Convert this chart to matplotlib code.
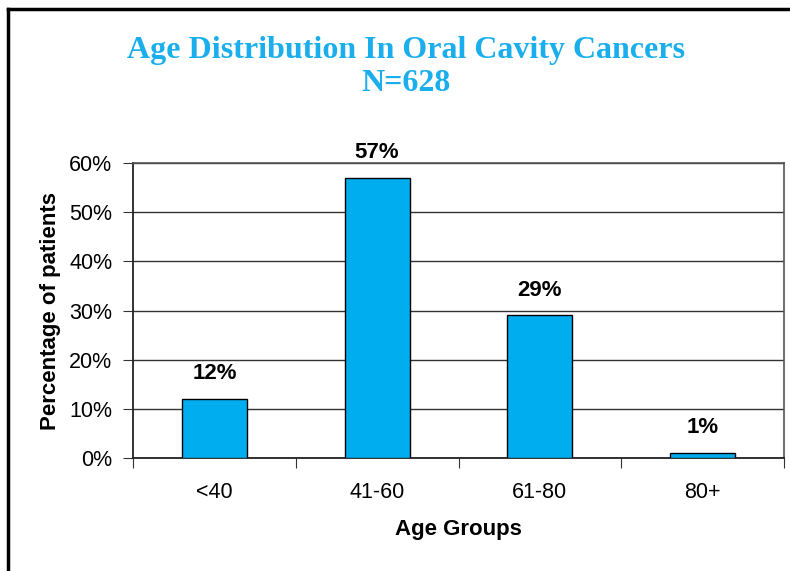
import matplotlib.pyplot as plt
import numpy as np

# Data
age_groups = ['<40', '41-60', '61-80', '80+']
percentages = [12, 57, 29, 1]
y_ticks = [0, 10, 20, 30, 40, 50, 60]

bar_color = '#00AEEF'
title_color = '#1AAFEC'

plt.rcParams['font.family'] = ['Liberation Sans', 'DejaVu Sans']

fig = plt.figure(figsize=(7.9, 5.71), dpi=100)
ax = fig.add_axes([133 / 790, 1 - 458 / 571, 651 / 790, 295 / 571])

x = np.arange(len(age_groups))
bars = ax.bar(x, percentages, width=0.4, color=bar_color, edgecolor='black',
              linewidth=1, zorder=3)

# Value labels above bars
for xi, v in zip(x, percentages):
    ax.text(xi, v + 3, f'{v}%', ha='center', va='bottom', fontsize=16,
            fontweight='bold')

ax.set_xlim(-0.5, len(age_groups) - 0.5)
ax.set_ylim(0, 60)
ax.set_yticks(y_ticks)
ax.set_yticklabels([f'{t}%' for t in y_ticks], fontsize=15.5)
ax.yaxis.grid(True, color='#333333', linewidth=1, zorder=0)

# Category labels centered, ticks between categories
ax.set_xticks(np.arange(-0.5, len(age_groups)), minor=False)
ax.set_xticklabels([])
ax.set_xticks(x, minor=True)
ax.set_xticklabels(age_groups, minor=True, fontsize=15.5)
ax.tick_params(axis='x', which='minor', length=0, pad=17)
ax.tick_params(axis='x', which='major', length=7, color='#333333')
ax.tick_params(axis='y', length=7, color='#333333', pad=8)

for side in ['left', 'bottom']:
    ax.spines[side].set_color('#222222')
    ax.spines[side].set_linewidth(1.3)
for side in ['top', 'right']:
    ax.spines[side].set_color('#555555')
    ax.spines[side].set_linewidth(1.2)

ax.set_xlabel('Age Groups', fontsize=16, fontweight='bold', labelpad=12)
ax.set_ylabel('Percentage of patients', fontsize=16, fontweight='bold', labelpad=6)

fig.text(406 / 790, 1 - 67 / 571, 'Age Distribution In Oral Cavity Cancers\nN=628',
         ha='center', va='center', fontsize=23, fontweight='bold',
         color=title_color, family=['Liberation Serif', 'DejaVu Serif'],
         linespacing=1.2)

# Outer frame (left and top only, as in the reference)
fig.add_artist(plt.Line2D([8 / 790, 8 / 790], [0, 1 - 9 / 571], color='black',
                          linewidth=2.5, transform=fig.transFigure))
fig.add_artist(plt.Line2D([8 / 790, 1], [1 - 9 / 571, 1 - 9 / 571], color='black',
                          linewidth=2.5, transform=fig.transFigure))

fig.savefig('out.png', dpi=100)
